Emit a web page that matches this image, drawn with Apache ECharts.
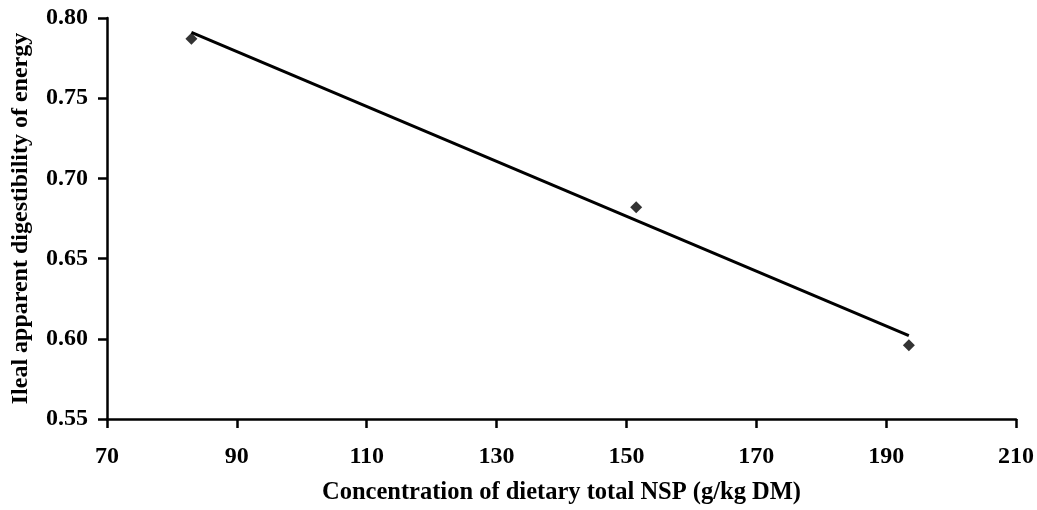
<!DOCTYPE html>
<html>
<head>
<meta charset="utf-8">
<script src="https://cdn.jsdelivr.net/npm/echarts@6/dist/echarts.min.js"></script>
<style>html,body{margin:0;padding:0;background:#fff}#c{width:1037px;height:510px}</style>
</head>
<body>
<div id="c"></div>
<script>
var nsp = [83, 151.5, 193.5];
var digestibility = [0.787, 0.682, 0.596];
var fitX = [83, 193.5];
var fitY = [0.791, 0.602];
var xTitle = 'Concentration of dietary total NSP (g/kg DM)';
var yTitle = 'Ileal apparent digestibility of energy';

var font = 'Liberation Serif';
var chart = echarts.init(document.getElementById('c'));
chart.setOption({
  animation: false,
  backgroundColor: '#fff',
  grid: {left: 107, right: 21, top: 18, bottom: 91, containLabel: false},
  xAxis: {
    type: 'value', min: 70, max: 210, interval: 20,
    name: xTitle, nameLocation: 'middle', nameGap: 61,
    nameTextStyle: {fontFamily: font, fontWeight: 'bold', fontSize: 24.5, color: '#000'},
    axisLine: {lineStyle: {color: '#000', width: 2.5}},
    axisTick: {show: true, inside: false, length: 9, lineStyle: {color: '#000', width: 2.5}},
    axisLabel: {fontFamily: font, fontWeight: 'bold', fontSize: 24, color: '#000', margin: 26},
    splitLine: {show: false}
  },
  yAxis: {
    type: 'value', min: 0.55, max: 0.80, interval: 0.05,
    name: yTitle, nameLocation: 'middle', nameGap: 74, nameRotate: 90,
    nameTextStyle: {fontFamily: font, fontWeight: 'bold', fontSize: 24, color: '#000'},
    axisLine: {show: true, lineStyle: {color: '#000', width: 2.5}},
    axisTick: {show: true, inside: false, length: 9, lineStyle: {color: '#000', width: 2.5}},
    axisLabel: {fontFamily: font, fontWeight: 'bold', fontSize: 24, color: '#000', margin: 19,
      formatter: function (v) { return v.toFixed(2); }},
    splitLine: {show: false}
  },
  series: [
    {
      type: 'line', data: fitX.map(function (x, i) { return [x, fitY[i]]; }),
      showSymbol: false, symbol: 'none',
      lineStyle: {color: '#000', width: 3}, z: 2
    },
    {
      type: 'scatter', data: nsp.map(function (x, i) { return [x, digestibility[i]]; }),
      symbol: 'diamond', symbolSize: 12,
      itemStyle: {color: '#000'}, z: 3
    }
  ]
});
</script>
</body>
</html>
